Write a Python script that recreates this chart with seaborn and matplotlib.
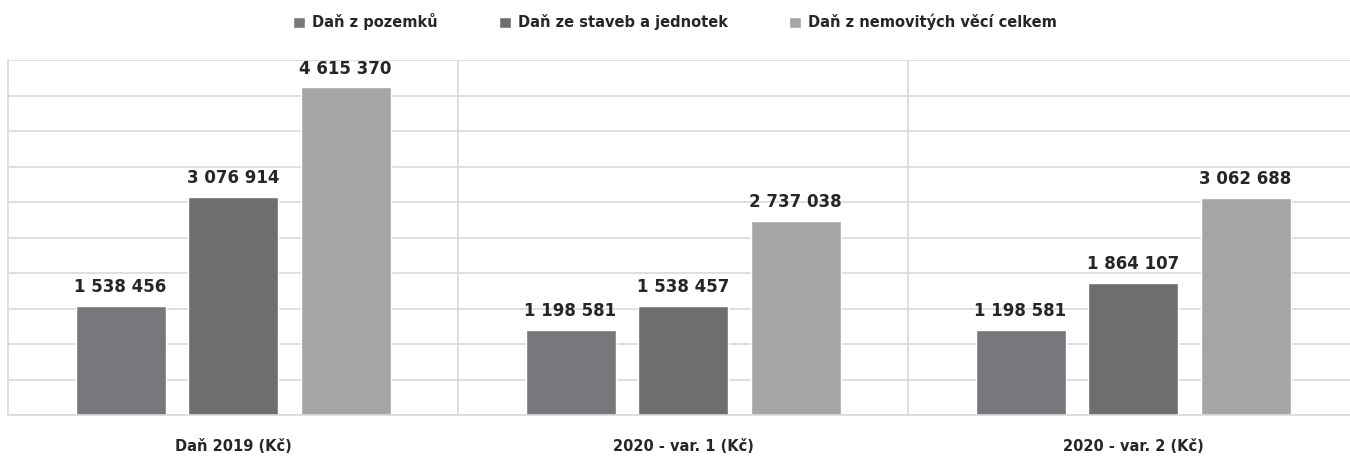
import numpy as np
import pandas as pd
import seaborn as sns
import matplotlib.pyplot as plt

categories = ['Daň 2019 (Kč)', '2020 - var. 1 (Kč)', '2020 - var. 2 (Kč)']
series = ['Daň z pozemků', 'Daň ze staveb a jednotek', 'Daň z nemovitých věcí celkem']
pozemky = [1538456, 1198581, 1198581]
stavby = [3076914, 1538457, 1864107]
celkem = [4615370, 2737038, 3062688]
colors = ['#77787b', '#6d6e71', '#a3a5a8']

df = pd.DataFrame({
    'kategorie': categories * 3,
    'serie': [series[0]] * 3 + [series[1]] * 3 + [series[2]] * 3,
    'hodnota': pozemky + stavby + celkem,
})

sns.set_style('white')
plt.rcParams['font.family'] = ['DejaVu Sans']

fig = plt.figure(figsize=(13.5, 4.57), dpi=100)
ax = fig.add_axes([8 / 1350, 42 / 457, 1350 / 1350, 355 / 457])

sns.barplot(data=df, x='kategorie', y='hodnota', hue='serie', palette=colors,
            width=0.75, gap=0.2, ax=ax, legend=True)

ax.set_ylim(0, 5000000)
ax.set_yticks(np.arange(0, 5000001, 500000))
ax.yaxis.grid(True, color='#d9d9d9', linewidth=1.2)
ax.set_axisbelow(True)
for xv in [0.5, 1.5]:
    ax.axvline(xv, color='#d9d9d9', linewidth=1.2, zorder=0)
ax.set_xlim(-0.5, 2.5)
ax.tick_params(left=False, labelleft=False, bottom=False)
for s in ['top', 'right']:
    ax.spines[s].set_visible(False)
for s in ['left', 'bottom']:
    ax.spines[s].set_color('#d9d9d9')
    ax.spines[s].set_linewidth(1.2)
ax.set_xlabel('')
ax.set_ylabel('')
for lbl in ax.get_xticklabels():
    lbl.set_fontweight('bold')
    lbl.set_fontsize(10.5)
    lbl.set_color('#262626')
ax.tick_params(axis='x', pad=14)

for cont in ax.containers:
    ax.bar_label(cont, labels=[f'{v:,.0f}'.replace(',', ' ') for v in cont.datavalues],
                 padding=7, fontsize=12, fontweight='bold', color='#262626')

handles, labels = ax.get_legend_handles_labels()
ax.get_legend().remove()
fig.legend(handles, labels, loc='center', bbox_to_anchor=(0.5, 1 - 22 / 457), ncol=3,
           frameon=False, prop={'weight': 'bold', 'size': 10.5},
           handlelength=0.8, handleheight=0.8, columnspacing=4.2, handletextpad=0.5)

fig.savefig('out.png', dpi=100)
